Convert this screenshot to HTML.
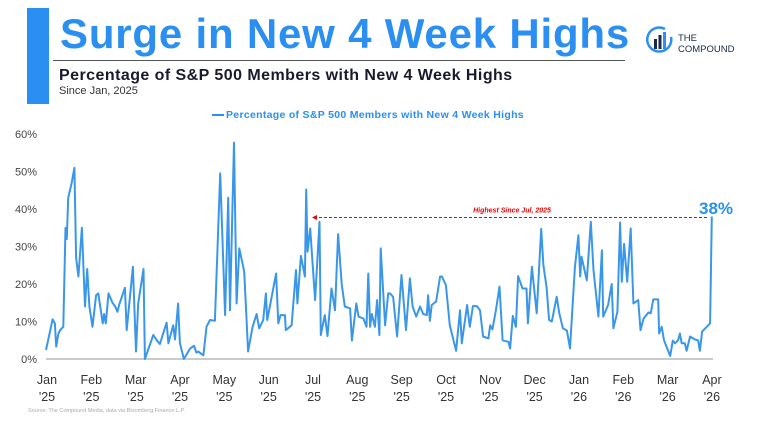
<!DOCTYPE html>
<html><head><meta charset="utf-8">
<style>
body{margin:0;width:763px;height:433px;background:#fff;font-family:"Liberation Sans",sans-serif;overflow:hidden;position:relative}
.abs{position:absolute;line-height:1}
</style></head><body>
<div class="abs" style="left:27px;top:8px;width:22px;height:96px;background:#2a8ff0"></div>
<div class="abs" style="left:60px;top:13px;font-size:42px;font-weight:bold;color:#2a8ff0;letter-spacing:0.8px;white-space:nowrap">Surge in New 4 Week Highs</div>
<div class="abs" style="left:53px;top:60px;width:572px;height:1px;background:#555"></div>
<div class="abs" style="left:59px;top:68px;font-size:16px;font-weight:bold;color:#1a1a2e;letter-spacing:0.45px;white-space:nowrap">Percentage of S&amp;P 500 Members with New 4 Week Highs</div>
<div class="abs" style="left:59px;top:86px;font-size:11px;color:#333">Since Jan, 2025</div>
<div class="abs" style="left:645px;top:25px;width:100px;height:30px">
<svg width="30" height="30" viewBox="0 0 30 30"><path d="M20 4 A12 12 0 1 0 26 12" fill="none" stroke="#2a8ff0" stroke-width="2.5"/><rect x="9" y="14" width="3" height="10" fill="#1a2a4a"/><rect x="13.5" y="10" width="3" height="14" fill="#1a2a4a"/><rect x="18" y="7" width="3" height="17" fill="#2a8ff0"/></svg>
<div class="abs" style="left:33px;top:8px;font-size:9.5px;color:#1a2a4a;line-height:11px">THE<br>COMPOUND</div>
</div>
<div class="abs" style="left:212px;top:110px;font-size:10.5px;font-weight:bold;color:#2a8ff0;letter-spacing:0.3px;white-space:nowrap"><span style="display:inline-block;width:12px;height:2px;background:#2a8ff0;vertical-align:middle;margin-right:2px"></span>Percentage of S&amp;P 500 Members with New 4 Week Highs</div>
<svg id="chart" class="abs" style="left:0;top:0" width="763" height="433"></svg>
<div class="abs" style="left:28px;top:409px;font-size:5.5px;color:#aaa">Source: The Compound Media, data via Bloomberg Finance L.P.</div>
<script>
const months=[0,0.15,0.2,0.23,0.28,0.32,0.39,0.44,0.47,0.5,0.58,0.64,0.68,0.73,0.81,0.88,0.93,0.98,1.05,1.13,1.18,1.28,1.31,1.35,1.41,1.5,1.56,1.61,1.65,1.78,1.82,1.96,2.03,2.08,2.2,2.23,2.42,2.5,2.57,2.72,2.76,2.87,2.91,2.98,3.02,3.11,3.25,3.34,3.39,3.43,3.55,3.62,3.7,3.81,3.93,4.04,4.11,4.15,4.24,4.3,4.36,4.47,4.56,4.66,4.75,4.81,4.9,4.96,4.99,5.07,5.19,5.24,5.29,5.39,5.41,5.54,5.64,5.67,5.75,5.84,5.87,5.9,5.96,6.07,6.17,6.2,6.29,6.35,6.44,6.52,6.59,6.67,6.74,6.86,6.9,7.0,7.05,7.16,7.23,7.27,7.31,7.35,7.42,7.47,7.52,7.55,7.65,7.72,7.76,7.83,7.92,8.02,8.12,8.21,8.27,8.35,8.44,8.51,8.59,8.62,8.66,8.7,8.8,8.89,8.93,9.02,9.11,9.25,9.34,9.38,9.5,9.56,9.63,9.72,9.79,9.86,9.98,10.02,10.07,10.15,10.23,10.3,10.43,10.47,10.53,10.6,10.65,10.75,10.84,10.87,10.96,11.07,11.17,11.22,11.29,11.35,11.41,11.52,11.58,11.66,11.75,11.82,11.93,12.01,12.05,12.08,12.2,12.29,12.35,12.46,12.54,12.57,12.68,12.76,12.8,12.89,12.95,12.99,13.04,13.11,13.19,13.25,13.36,13.41,13.48,13.59,13.64,13.7,13.81,13.83,13.89,13.94,14.08,14.14,14.19,14.26,14.3,14.34,14.41,14.45,14.53,14.64,14.71,14.75,14.8,14.98,15.02];
const values=[2.4,10.6,9.5,3.3,6.8,7.7,8.6,35,32,43,47,51,27,22,35,14,24,14,8.6,17,17.5,9.5,12,9.5,17.5,15,14,12.6,14.4,19,7.7,24.6,2,14.8,24,0,6.4,5,4,9.7,4.2,9,5.2,14.8,4.2,0,2.8,3.5,1.7,2,1,8.6,10.4,10.2,49.5,11.7,43,13,57.7,14.8,29.5,23.3,2,8.6,12,8.2,10.4,17.5,10.4,15.3,22.8,9.5,11.7,11.7,7.7,9,23.7,14.8,27.5,22,45.2,28.6,34.8,15.7,36.6,6.4,11.7,6.1,18.8,13,33.3,20,14,13.5,4.9,14.8,11.3,10.8,8.6,22.8,8.6,12,8.6,15.7,6.4,29.5,9,17.5,17.5,16.6,6,22.4,7.7,21.5,14,11.3,14,12,11.7,17,10.2,14.4,15.3,22,22,19.7,9,2.2,13,4.2,14.4,8.6,14.1,14.1,13,6,5.5,9,7.9,13,19.3,5,4.6,2.8,11.5,8.6,22.1,18.8,18.8,9.5,24.6,12.2,34.7,25,19.3,10.4,10,16.6,12.2,8.2,7.6,2.8,24.4,33,22,27.3,21,36.6,23.7,11.3,29,11.3,14.4,20,8.2,12.6,36.4,20.6,30.7,20.6,34.8,14.8,15.7,7.7,10.8,12.4,12.2,15.9,15.9,6.8,8.6,5,0.8,4.9,4.2,5,6.8,4.2,4.2,2.2,6,5.2,5,2.2,7.3,9.5,38];
const yTicks=[0,10,20,30,40,50,60];
const xMonths=["Jan","Feb","Mar","Apr","May","Jun","Jul","Aug","Sep","Oct","Nov","Dec","Jan","Feb","Mar","Apr"];
const xYears=["'25","'25","'25","'25","'25","'25","'25","'25","'25","'25","'25","'25","'26","'26","'26","'26"];
const refValue=38, refStart=6.0;
const NS="http://www.w3.org/2000/svg";
const svg=document.getElementById('chart');
const X=m=>46+m*44.33, Y=v=>359-v*3.75;
function mk(t,a,txt){const e=document.createElementNS(NS,t);for(const k in a)e.setAttribute(k,a[k]);if(txt!=null)e.textContent=txt;svg.appendChild(e);return e;}
yTicks.forEach(v=>{const t=mk('text',{x:37,y:Y(v)+4,'text-anchor':'end','font-size':11,fill:'#444','font-family':'Liberation Sans'},v+'%');

});
xMonths.forEach((m,i)=>{const a=mk('text',{x:X(i)+1,y:384,'text-anchor':'middle','font-size':12.5,fill:'#333','font-family':'Liberation Sans'},m);


const b=mk('text',{x:X(i)+1,y:401,'text-anchor':'middle','font-size':12.5,fill:'#333','font-family':'Liberation Sans'},xYears[i]);

});
const ax=mk('line',{x1:46,x2:713,y1:Y(0),y2:Y(0),stroke:'#aaa','stroke-width':1.2});


const rl=mk('line',{x1:X(refStart)+2,x2:X(months[months.length-1])-4,y1:Y(refValue)+1,y2:Y(refValue)+1,stroke:'#e00','stroke-width':1,'stroke-dasharray':'3,2'});


const ah=mk('path',{d:`M${X(refStart)} ${Y(refValue)+1} l5 -2.5 v5 z`,fill:'#e00'});


const rt=mk('text',{x:512,y:Y(refValue)-4,'text-anchor':'middle','font-size':7,'font-style':'italic','font-weight':'bold',fill:'#e00','font-family':'Liberation Sans'},'Highest Since Jul, 2025');


const d=months.map((m,i)=>(i?'L':'M')+X(m).toFixed(1)+' '+Y(values[i]).toFixed(1)).join(' ');
const ln=mk('path',{d:d,fill:'none',stroke:'#3a97e8','stroke-width':2,'stroke-linejoin':'round'});


const lv=mk('text',{x:716,y:214,'text-anchor':'middle','font-size':17,'font-weight':'bold',fill:'#2a8ff0','font-family':'Liberation Sans'},values[values.length-1]+'%');


</script>
</body></html>
